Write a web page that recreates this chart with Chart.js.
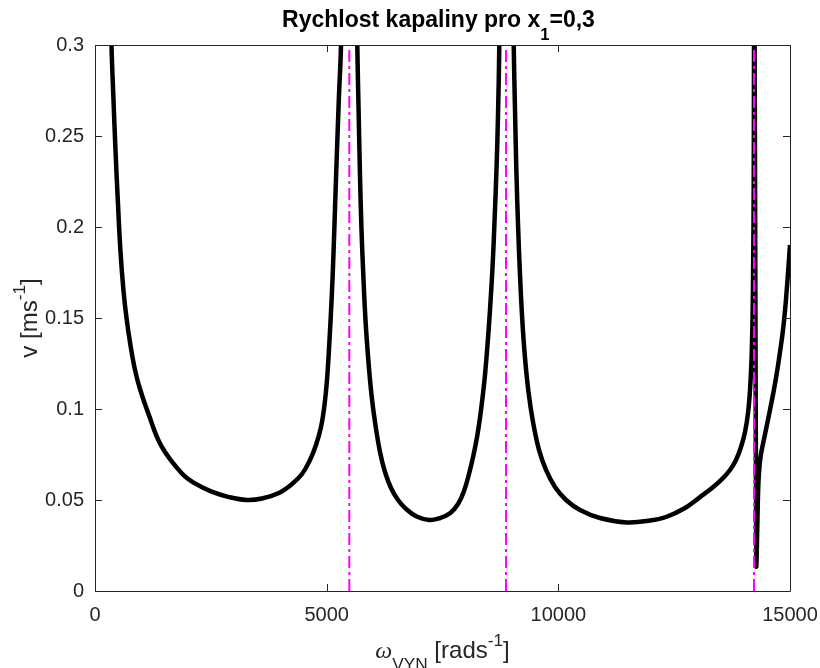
<!DOCTYPE html>
<html>
<head>
<meta charset="utf-8">
<script src="https://cdn.jsdelivr.net/npm/chart.js@4.4.1/dist/chart.umd.min.js"></script>
<style>
html,body{margin:0;padding:0;background:#fff;}
#wrap{width:820px;height:668px;position:relative;}
</style>
</head>
<body>
<div id="wrap"><canvas id="c" width="820" height="668"></canvas></div>
<script>
// ---- text ----
const titleParts = [["Rychlost kapaliny pro x", "n"], ["1", "sub"], ["=0,3", "n"]];
const xLabelParts = [["\u03C9", "greek"], ["VYN", "sub"], [" [rads", "n"], ["-1", "sup"], ["]", "n"]];
const yLabelParts = [["v [ms", "n"], ["-1", "sup"], ["]", "n"]];

// ---- ticks ----
const xTickValues = [0, 5000, 10000, 15000];
const xTickLabels = ["0", "5000", "10000", "15000"];
const yTickValues = [0, 0.05, 0.1, 0.15, 0.2, 0.25, 0.3];
const yTickLabels = ["0", "0.05", "0.1", "0.15", "0.2", "0.25", "0.3"];

// ---- data: fluid velocity v [m/s] vs omega [rad/s]; values above 0.3 are the clipped resonance peaks ----
const omega = [
  324, 356, 399, 442, 492, 550, 615, 680, 766, 863, 971, 1150, 1440, 1871, 2158, 2519, 2892, 3274, 3604, 3956,
  4252, 4468, 4640, 4770, 4878, 4953, 5007, 5061, 5111, 5150, 5186, 5223, 5266, 5309,
  5489,
  5661, 5689, 5719, 5752, 5791, 5838, 5899, 5968, 6043, 6151, 6259, 6389, 6540, 6712, 6943, 7215, 7446, 7662,
  7835, 7964, 8072, 8169, 8245, 8309, 8363, 8417, 8471, 8525, 8579, 8622, 8665, 8698, 8726,
  8871,
  9037, 9065, 9097, 9134, 9173, 9222, 9281, 9356, 9453, 9583, 9734, 9928, 10166, 10468, 10899, 11476, 11978,
  12339, 12734, 13058, 13317, 13532, 13705, 13835, 13942, 14029, 14094, 14137, 14169, 14191, 14206, 14217, 14223,
  14230,
  14269, 14273, 14295, 14316, 14342, 14374, 14417, 14497, 14568, 14640, 14709, 14784, 14849, 14903, 14946, 15000
];
const velocity = [
  0.3467, 0.3000, 0.2698, 0.2423, 0.2148, 0.1865, 0.1650, 0.1500, 0.1350, 0.1215, 0.1110, 0.0976, 0.0793, 0.0647, 0.0591, 0.0546, 0.0516, 0.0500, 0.0508, 0.0537,
  0.0588, 0.0643, 0.0720, 0.0802, 0.0901, 0.1022, 0.1159, 0.1379, 0.1626, 0.1874, 0.2148, 0.2423, 0.2725, 0.3000,
  0.6,
  0.3000, 0.2643, 0.2286, 0.1984, 0.1736, 0.1489, 0.1269, 0.1077, 0.0929, 0.0764, 0.0654, 0.0566, 0.0500, 0.0451, 0.0409, 0.0390, 0.0401, 0.0427,
  0.0478, 0.0549, 0.0643, 0.0747, 0.0846, 0.0951, 0.1060, 0.1187, 0.1352, 0.1544, 0.1775, 0.2027, 0.2313, 0.2615, 0.3000,
  0.6,
  0.3000, 0.2643, 0.2286, 0.1984, 0.1736, 0.1489, 0.1280, 0.1093, 0.0929, 0.0775, 0.0665, 0.0571, 0.0500, 0.0445, 0.0401, 0.0377, 0.0387,
  0.0408, 0.0456, 0.0516, 0.0566, 0.0615, 0.0665, 0.0720, 0.0791, 0.0874, 0.0978, 0.1104, 0.1269, 0.1489, 0.1819, 0.2258, 0.3000,
  0.3577,
  0.0280, 0.0134, 0.0363, 0.0582, 0.0687, 0.0753, 0.0808, 0.0907, 0.0995, 0.1088, 0.1187, 0.1313, 0.1434, 0.1571, 0.1709, 0.1901
];
// resonance frequencies (magenta dash-dot lines)
const resonanceOmega = [5489, 8871, 14223];
const yRange = [0, 0.3];
const xRange = [0, 15000];

// ---- build datasets ----
const curvePoints = omega.map((w, i) => ({x: w, y: velocity[i]}));
const datasets = [{
  data: curvePoints,
  showLine: true,
  borderColor: '#000000',
  borderWidth: 4.5,
  borderJoinStyle: 'round',
  pointRadius: 0,
  tension: 0.4,
  order: 1
}];
resonanceOmega.forEach(w => {
  datasets.push({
    data: [{x: w, y: yRange[0]}, {x: w, y: yRange[1]}],
    showLine: true,
    borderColor: '#FF00FF',
    borderWidth: 2,
    borderDash: [12, 4, 3, 4],
    pointRadius: 0,
    tension: 0,
    order: 0
  });
});

const FONT = '"Liberation Sans", Arial, Helvetica, sans-serif';
const AXIS_COLOR = '#262626';

function drawRich(ctx, parts, cx, baseY, size, weight, color, subDrop) {
  const segs = parts.map(([t, kind]) => {
    let fs = size, dy = 0, family = FONT, style = '';
    if (kind === 'sub') { fs = size * 0.72; dy = size * subDrop; }
    if (kind === 'sup') { fs = size * 0.72; dy = -size * 0.48; }
    if (kind === 'greek') { family = '"Liberation Serif", "DejaVu Serif", serif'; style = 'italic '; }
    const font = style + weight + ' ' + fs + 'px ' + family;
    ctx.font = font;
    return {t, font, dy, w: ctx.measureText(t).width};
  });
  const total = segs.reduce((a, s) => a + s.w, 0);
  let x = cx - total / 2;
  ctx.fillStyle = color;
  ctx.textAlign = 'left';
  ctx.textBaseline = 'alphabetic';
  segs.forEach(s => { ctx.font = s.font; ctx.fillText(s.t, x, baseY + s.dy); x += s.w; });
}

const framePlugin = {
  id: 'matlabFrame',
  afterDraw(chart) {
    const ctx = chart.ctx;
    const a = chart.chartArea;
    const xs = chart.scales.x, ys = chart.scales.y;
    const tl = 7;
    ctx.save();
    ctx.strokeStyle = AXIS_COLOR;
    ctx.lineWidth = 1;
    ctx.beginPath();
    ctx.rect(Math.round(a.left) + 0.5, Math.round(a.top) + 0.5, Math.round(a.right - a.left), Math.round(a.bottom - a.top));
    xs.ticks.forEach(t => {
      const px = Math.round(xs.getPixelForValue(t.value)) + 0.5;
      ctx.moveTo(px, a.bottom); ctx.lineTo(px, a.bottom - tl);
      ctx.moveTo(px, a.top); ctx.lineTo(px, a.top + tl);
    });
    ys.ticks.forEach(t => {
      const py = Math.round(ys.getPixelForValue(t.value)) + 0.5;
      ctx.moveTo(a.left, py); ctx.lineTo(a.left + tl, py);
      ctx.moveTo(a.right, py); ctx.lineTo(a.right - tl, py);
    });
    ctx.stroke();

    const cx = (a.left + a.right) / 2;
    const cy = (a.top + a.bottom) / 2;
    drawRich(ctx, titleParts, cx - 4, a.top - 18, 23, 'bold', '#000000', 0.55);
    drawRich(ctx, xLabelParts, cx, a.bottom + 67, 24, 'normal', AXIS_COLOR, 0.48);
    ctx.translate(a.left - 58, cy);
    ctx.rotate(-Math.PI / 2);
    drawRich(ctx, yLabelParts, 0, 0, 24, 'normal', AXIS_COLOR, 0.48);
    ctx.restore();
  }
};

new Chart(document.getElementById('c'), {
  type: 'scatter',
  data: {datasets},
  options: {
    responsive: false,
    devicePixelRatio: 1,
    animation: false,
    layout: {padding: {left: 0, right: 30, top: 45, bottom: 0}},
    plugins: {legend: {display: false}, tooltip: {enabled: false}, title: {display: false}},
    scales: {
      x: {
        type: 'linear', min: xRange[0], max: xRange[1],
        afterBuildTicks: s => { s.ticks = xTickValues.map(v => ({value: v})); },
        afterFit: s => { s.height = 77; s.paddingLeft = 0; s.paddingRight = 0; },
        grid: {display: false, drawTicks: false},
        border: {display: false},
        ticks: {
          autoSkip: false, maxRotation: 0, padding: 12, color: AXIS_COLOR,
          font: {family: FONT, size: 20},
          callback: v => xTickLabels[xTickValues.indexOf(v)]
        }
      },
      y: {
        type: 'linear', min: yRange[0], max: yRange[1],
        afterBuildTicks: s => { s.ticks = yTickValues.map(v => ({value: v})); },
        afterFit: s => { s.width = 95; s.paddingTop = 0; s.paddingBottom = 0; },
        grid: {display: false, drawTicks: false},
        border: {display: false},
        ticks: {
          autoSkip: false, padding: 11, color: AXIS_COLOR,
          font: {family: FONT, size: 20},
          callback: v => yTickLabels[yTickValues.indexOf(v)]
        }
      }
    }
  },
  plugins: [framePlugin]
});
</script>
</body>
</html>
